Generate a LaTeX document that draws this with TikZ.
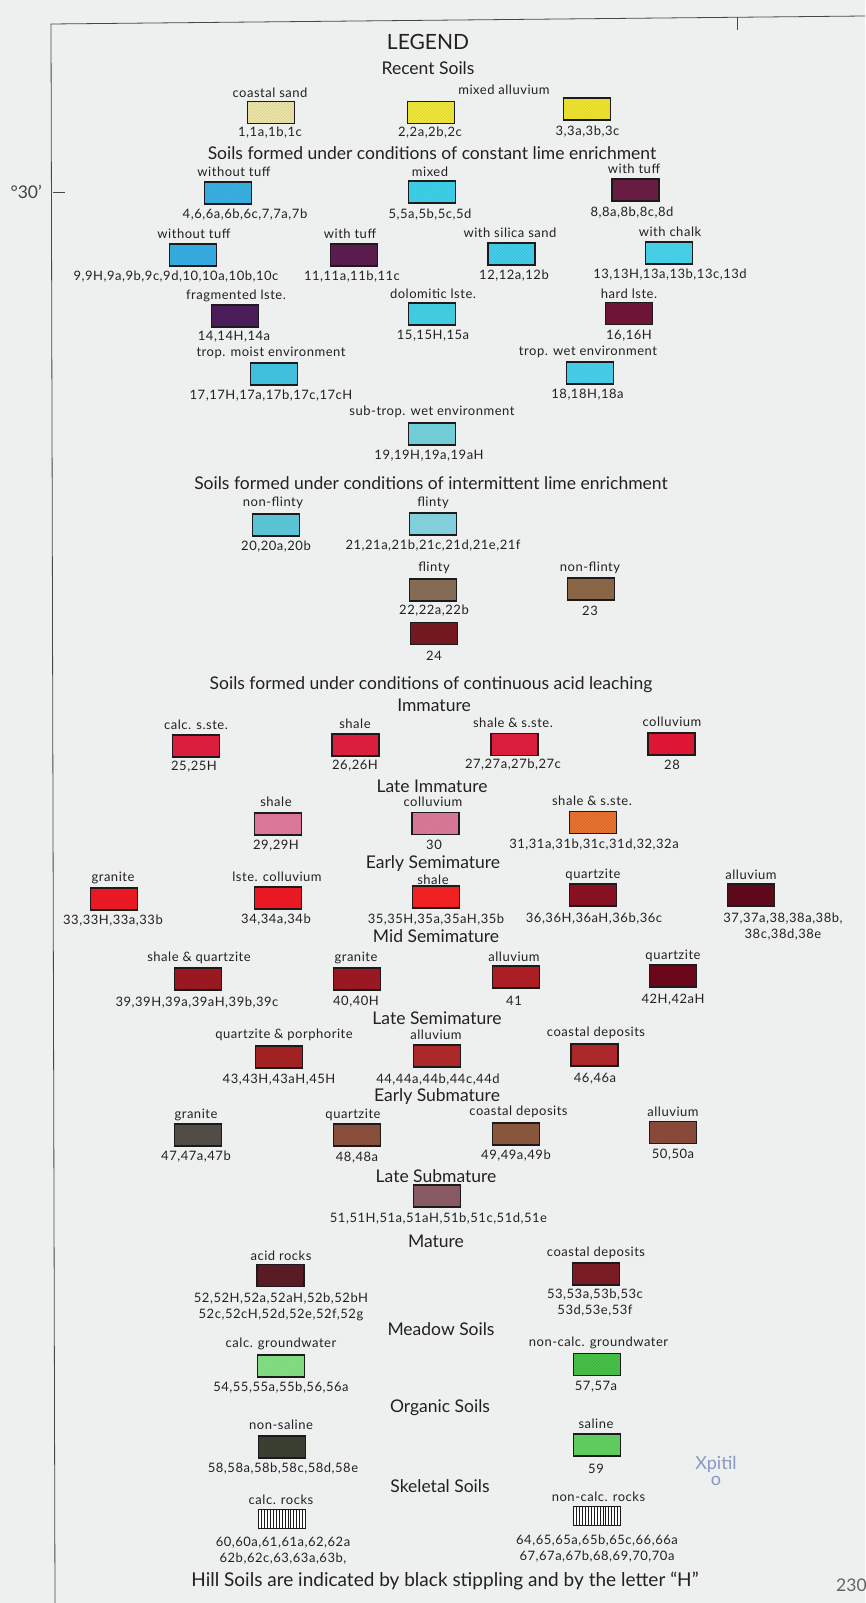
\documentclass[tikz,border=0pt]{standalone}
\usepackage{fontspec}
\setmainfont{Lato}
\newfontfamily\labfont[LetterSpace=4]{Lato}
\newfontfamily\numfont[LetterSpace=4]{Lato}
\usetikzlibrary{positioning}

\definecolor{paper}{HTML}{EEF0F0}
\definecolor{ink}{HTML}{222020}
\definecolor{edge}{HTML}{1C1A1C}
\definecolor{col01}{HTML}{F0E8A8}
\definecolor{col02}{HTML}{F4EA3A}
\definecolor{col03}{HTML}{F2E830}
\definecolor{col04}{HTML}{3AB4E6}
\definecolor{col05}{HTML}{40D4EE}
\definecolor{col08}{HTML}{6E1E44}
\definecolor{col09}{HTML}{36B2E8}
\definecolor{col11}{HTML}{5E1E52}
\definecolor{col12}{HTML}{44D2EC}
\definecolor{col13}{HTML}{48D8F0}
\definecolor{col14}{HTML}{4E1E5E}
\definecolor{col15}{HTML}{44D4EA}
\definecolor{col16}{HTML}{74163A}
\definecolor{col17}{HTML}{44C8E6}
\definecolor{col18}{HTML}{48D4EE}
\definecolor{col19}{HTML}{78D6E2}
\definecolor{col20}{HTML}{5ECCDE}
\definecolor{col21}{HTML}{88D8E6}
\definecolor{col22}{HTML}{8A7058}
\definecolor{col23}{HTML}{8E6A48}
\definecolor{col24}{HTML}{7A1A20}
\definecolor{col25}{HTML}{E42040}
\definecolor{col28}{HTML}{E81838}
\definecolor{col29}{HTML}{E47C9E}
\definecolor{col30}{HTML}{E07C9C}
\definecolor{col31}{HTML}{EC7430}
\definecolor{col33}{HTML}{F41A26}
\definecolor{col35}{HTML}{FA2222}
\definecolor{col36}{HTML}{8E1222}
\definecolor{col37}{HTML}{620A1C}
\definecolor{col39}{HTML}{A01A24}
\definecolor{col41}{HTML}{B41E26}
\definecolor{col42}{HTML}{70081C}
\definecolor{col43}{HTML}{A82424}
\definecolor{col44}{HTML}{B42A2C}
\definecolor{col47}{HTML}{56504A}
\definecolor{col48}{HTML}{8E5240}
\definecolor{col49}{HTML}{8E5A3E}
\definecolor{col50}{HTML}{8E4C3C}
\definecolor{col51}{HTML}{8E5E68}
\definecolor{col52}{HTML}{5E1C26}
\definecolor{col53}{HTML}{801C26}
\definecolor{col54}{HTML}{86E486}
\definecolor{col57}{HTML}{48C448}
\definecolor{col58}{HTML}{3C4234}
\definecolor{col59}{HTML}{64D464}
\definecolor{place}{HTML}{8898C4}

\begin{document}
\begin{tikzpicture}[
    x=1pt, y=-1pt,
    every node/.style={text=ink, inner sep=0pt},
    title/.style={font=\fontsize{21}{24}\selectfont},
    head/.style={font=\fontsize{17.5}{20}\selectfont},
    lab/.style={font=\labfont\fontsize{13}{15}\selectfont},
    num/.style={font=\numfont\fontsize{13}{16}\selectfont, align=center},
    swatch/.style={draw=edge, line width=1.3pt, minimum width=47, minimum height=22,
        path picture={\foreach \k in {-22,-19,...,47}
            \draw[black, opacity=0.13, line width=0.6pt] ([xshift=\k pt]path picture bounding box.south west) -- ++(22,-22);}},
    hatchbox/.style={draw=edge, line width=1.3pt, fill=white, minimum width=47, minimum height=19,
        path picture={\foreach \k in {1,...,15}
            \draw[edge, line width=0.8pt] ([xshift=\k*2.94pt]path picture bounding box.south west) -- ([xshift=\k*2.94pt]path picture bounding box.north west);}},
    frame/.style={draw=edge!80, line width=0.8pt}
]
    \useasboundingbox (0,0) rectangle (865,1603);
    \fill[paper] (0,0) rectangle (865,1603);

    % Map frame
    \coordinate (fTL) at (51,24);
    \coordinate (fTR) at (865,16);
    \coordinate (fBL) at (55,1603);
    \draw[frame] (fTR) -- (fTL) -- (fBL);
    \draw[frame] (737,17) -- (737,30);
    \draw[frame] (53,192) -- (65,192);
    \node (deg) [head, text=ink!85, anchor=east] at (42,192) {°30’};

    % Titles
    \node (legend) [title] at (428,42) {LEGEND};
    \node (hRecent) [head] at (428,68) {Recent Soils};

    % Recent soils
    \node (t01) [lab] at (270,93) {coastal sand};
    \node (s01) [swatch, fill=col01] at (271,112.5) {};
    \node (n01) [num] at (270,133) {1,1a,1b,1c};
    \node (t02) [lab] at (504,90) {mixed alluvium};
    \node (s02) [swatch, fill=col02] at (431,112.5) {};
    \node (n02) [num] at (430,133) {2,2a,2b,2c};
    \node (s03) [swatch, fill=col03] at (587,109) {};
    \node (n03) [num] at (587.5,132) {3,3a,3b,3c};

    % Constant lime enrichment
    \node (hConst) [head] at (432,153) {Soils formed under conditions of constant lime enrichment};
    \node (t04) [lab] at (234,172) {without tuff};
    \node (s04) [swatch, fill=col04] at (228,193) {};
    \node (n04) [num] at (245,215) {4,6,6a,6b,6c,7,7a,7b};
    \node (t05) [lab] at (430,172) {mixed};
    \node (s05) [swatch, fill=col05] at (432,192) {};
    \node (n05) [num] at (430,215) {5,5a,5b,5c,5d};
    \node (t08) [lab] at (634,169) {with tuff};
    \node (s08) [swatch, fill=col08] at (635.5,190) {};
    \node (n08) [num] at (632,213) {8,8a,8b,8c,8d};

    \node (t09) [lab] at (194,234) {without tuff};
    \node (s09) [swatch, fill=col09] at (193,255) {};
    \node (n09) [num] at (176,277) {9,9H,9a,9b,9c,9d,10,10a,10b,10c};
    \node (t11) [lab] at (350,234) {with tuff};
    \node (s11) [swatch, fill=col11] at (354,255) {};
    \node (n11) [num] at (352,277) {11,11a,11b,11c};
    \node (t12) [lab] at (510,233) {with silica sand};
    \node (s12) [swatch, fill=col12] at (511.5,254) {};
    \node (n12) [num] at (514,276) {12,12a,12b};
    \node (t13) [lab] at (670,232) {with chalk};
    \node (s13) [swatch, fill=col13] at (669,253) {};
    \node (n13) [num] at (670,275) {13,13H,13a,13b,13c,13d};

    \node (t14) [lab] at (236,296) {fragmented lste.};
    \node (s14) [swatch, fill=col14] at (235,316) {};
    \node (n14) [num] at (234,337) {14,14H,14a};
    \node (t15) [lab] at (433,294) {dolomitic lste.};
    \node (s15) [swatch, fill=col15] at (432,314) {};
    \node (n15) [num] at (433,336) {15,15H,15a};
    \node (t16) [lab] at (629,294) {hard lste.};
    \node (s16) [swatch, fill=col16] at (629,313.5) {};
    \node (n16) [num] at (629,336) {16,16H};

    \node (t17) [lab] at (271,353) {trop. moist environment};
    \node (s17) [swatch, fill=col17] at (274,374) {};
    \node (n17) [num] at (271,396) {17,17H,17a,17b,17c,17cH};
    \node (t18) [lab] at (588,352) {trop. wet environment};
    \node (s18) [swatch, fill=col18] at (590,373) {};
    \node (n18) [num] at (587.5,395) {18,18H,18a};
    \node (t19) [lab] at (432,412) {sub-trop. wet environment};
    \node (s19) [swatch, fill=col19] at (432,434) {};
    \node (n19) [num] at (429,456) {19,19H,19a,19aH};

    % Intermittent lime enrichment
    \node (hInter) [head] at (431,483) {Soils formed under conditions of intermittent lime enrichment};
    \node (t20) [lab] at (273,503) {non-flinty};
    \node (s20) [swatch, fill=col20] at (276,525) {};
    \node (n20) [num] at (276,547) {20,20a,20b};
    \node (t21) [lab] at (433,503) {flinty};
    \node (s21) [swatch, fill=col21] at (433,524) {};
    \node (n21) [num] at (433,546) {21,21a,21b,21c,21d,21e,21f};
    \node (t22) [lab] at (434,568) {flinty};
    \node (s22) [swatch, fill=col22] at (433,590) {};
    \node (n22) [num] at (434,611) {22,22a,22b};
    \node (t23) [lab] at (590,568) {non-flinty};
    \node (s23) [swatch, fill=col23] at (591,589) {};
    \node (n23) [num] at (590,611) {23};
    \node (s24) [swatch, fill=col24] at (434,633.5) {};
    \node (n24) [num] at (434,656) {24};

    % Continuous acid leaching
    \node (hAcid) [head] at (431,685) {Soils formed under conditions of continuous acid leaching};
    \node (hImm) [head] at (434,705) {Immature};
    \node (t25) [lab] at (196,725) {calc. s.ste.};
    \node (s25) [swatch, fill=col25] at (196,746) {};
    \node (n25) [num] at (194,767) {25,25H};
    \node (t26) [lab] at (355,724) {shale};
    \node (s26) [swatch, fill=col25] at (355.5,745) {};
    \node (n26) [num] at (355,766) {26,26H};
    \node (t27) [lab] at (513,723) {shale \& s.ste.};
    \node (s27) [swatch, fill=col25] at (514.5,744.5) {};
    \node (n27) [num] at (513,765) {27,27a,27b,27c};
    \node (t28) [lab] at (672,722) {colluvium};
    \node (s28) [swatch, fill=col28] at (671.5,744) {};
    \node (n28) [num] at (672,765) {28};

    \node (hLateImm) [head] at (432,786) {Late Immature};
    \node (t29) [lab] at (276,802) {shale};
    \node (s29) [swatch, fill=col29] at (278,824) {};
    \node (n29) [num] at (276,846) {29,29H};
    \node (t30) [lab] at (433,802) {colluvium};
    \node (s30) [swatch, fill=col30] at (435.5,823.5) {};
    \node (n30) [num] at (434,845) {30};
    \node (t31) [lab] at (592,801) {shale \& s.ste.};
    \node (s31) [swatch, fill=col31] at (593,822.5) {};
    \node (n31) [num] at (594,845) {31,31a,31b,31c,31d,32,32a};

    \node (hEarlySemi) [head] at (433,864) {Early Semimature};
    \node (t33) [lab] at (113,878) {granite};
    \node (s33) [swatch, fill=col33] at (114,899) {};
    \node (n33) [num] at (113,921) {33,33H,33a,33b};
    \node (t34) [lab] at (277,877) {lste. colluvium};
    \node (s34) [swatch, fill=col33] at (278,898) {};
    \node (n34) [num] at (276,920) {34,34a,34b};
    \node (t35) [lab] at (433,880) {shale};
    \node (s35) [swatch, fill=col35] at (436,897) {};
    \node (n35) [num] at (436,920) {35,35H,35a,35aH,35b};
    \node (t36) [lab] at (593,875) {quartzite};
    \node (s36) [swatch, fill=col36] at (593,895) {};
    \node (n36) [num] at (594,919) {36,36H,36aH,36b,36c};
    \node (t37) [lab] at (751,875) {alluvium};
    \node (s37) [swatch, fill=col37] at (751,895) {};
    \node (n37) [num] at (783,927) {37,37a,38,38a,38b,\\38c,38d,38e};

    \node (hMidSemi) [head] at (436,936) {Mid Semimature};
    \node (t39) [lab] at (199,958) {shale \& quartzite};
    \node (s39) [swatch, fill=col39] at (198,979) {};
    \node (n39) [num] at (197,1003) {39,39H,39a,39aH,39b,39c};
    \node (t40) [lab] at (356,958) {granite};
    \node (s40) [swatch, fill=col39] at (357,979) {};
    \node (n40) [num] at (356,1002) {40,40H};
    \node (t41) [lab] at (514,957) {alluvium};
    \node (s41) [swatch, fill=col41] at (516,977) {};
    \node (n41) [num] at (514,1001) {41};
    \node (t42) [lab] at (673,956) {quartzite};
    \node (s42) [swatch, fill=col42] at (673,976) {};
    \node (n42) [num] at (673,1000) {42H,42aH};

    \node (hLateSemi) [head] at (437,1018) {Late Semimature};
    \node (t43) [lab] at (284,1035) {quartzite \& porphorite};
    \node (s43) [swatch, fill=col43] at (279,1057) {};
    \node (n43) [num] at (279,1080) {43,43H,43aH,45H};
    \node (t44) [lab] at (436,1035) {alluvium};
    \node (s44) [swatch, fill=col44] at (437,1056) {};
    \node (n44) [num] at (438,1080) {44,44a,44b,44c,44d};
    \node (t46) [lab] at (596,1033) {coastal deposits};
    \node (s46) [swatch, fill=col44] at (594.5,1055) {};
    \node (n46) [num] at (595,1079) {46,46a};

    \node (hEarlySub) [head] at (437,1097) {Early Submature};
    \node (t47) [lab] at (196,1115) {granite};
    \node (s47) [swatch, fill=col47] at (198,1135) {};
    \node (n47) [num] at (196,1157) {47,47a,47b};
    \node (t48) [lab] at (353,1115) {quartzite};
    \node (s48) [swatch, fill=col48] at (357,1135) {};
    \node (n48) [num] at (357,1158) {48,48a};
    \node (t49) [lab] at (518.5,1112) {coastal deposits};
    \node (s49) [swatch, fill=col49] at (516,1134) {};
    \node (n49) [num] at (516,1156) {49,49a,49b};
    \node (t50) [lab] at (673,1112) {alluvium};
    \node (s50) [swatch, fill=col50] at (673,1132.5) {};
    \node (n50) [num] at (673,1155) {50,50a};

    \node (hLateSub) [head] at (436,1176) {Late Submature};
    \node (s51) [swatch, fill=col51] at (437,1196) {};
    \node (n51) [num] at (438.5,1219) {51,51H,51a,51aH,51b,51c,51d,51e};

    \node (hMature) [head] at (436,1241) {Mature};
    \node (t52) [lab] at (281,1256) {acid rocks};
    \node (s52) [swatch, fill=col52] at (280.5,1275.5) {};
    \node (n52) [num] at (281,1307) {52,52H,52a,52aH,52b,52bH\\52c,52cH,52d,52e,52f,52g};
    \node (t53) [lab] at (596,1253) {coastal deposits};
    \node (s53) [swatch, fill=col53] at (596,1274) {};
    \node (n53) [num] at (595,1303) {53,53a,53b,53c\\53d,53e,53f};

    % Meadow, organic and skeletal soils
    \node (hMeadow) [head] at (441,1329) {Meadow Soils};
    \node (t54) [lab] at (281,1344) {calc. groundwater};
    \node (s54) [swatch, fill=col54] at (281,1366) {};
    \node (n54) [num] at (281,1388) {54,55,55a,55b,56,56a};
    \node (t57) [lab] at (598.5,1343) {non-calc. groundwater};
    \node (s57) [swatch, fill=col57] at (597,1364.5) {};
    \node (n57) [num] at (596,1387) {57,57a};

    \node (hOrganic) [head] at (440,1408) {Organic Soils};
    \node (t58) [lab] at (281,1425) {non-saline};
    \node (s58) [swatch, fill=col58] at (282,1447) {};
    \node (n58) [num] at (283,1469) {58,58a,58b,58c,58d,58e};
    \node (t59) [lab] at (596,1424) {saline};
    \node (s59) [swatch, fill=col59] at (597,1445) {};
    \node (n59) [num] at (596,1469) {59};
    \node (xpitil) [font=\fontsize{18}{16}\selectfont, text=place, align=center] at (716,1471) {Xpitil\\o};

    \node (hSkeletal) [head] at (440,1486) {Skeletal Soils};
    \node (t64) [lab] at (598.5,1497) {non-calc. rocks};
    \node (t60) [lab] at (281,1500) {calc. rocks};
    \node (s60) [hatchbox] at (282,1519) {};
    \node (n60) [num] at (283,1551) {60,60a,61,61a,62,62a\\62b,62c,63,63a,63b,};
    \node (s64) [hatchbox] at (597,1516) {};
    \node (n64) [num] at (597,1549) {64,65,65a,65b,65c,66,66a\\67,67a,67b,68,69,70,70a};

    \node (hHill) [font=\fontsize{19}{21}\selectfont] at (445,1581) {Hill Soils are indicated by black stippling and by the letter “H”};
    \node (sheet) [head, text=ink!70, anchor=west] at (836,1585) {230};
\end{tikzpicture}
\end{document}
